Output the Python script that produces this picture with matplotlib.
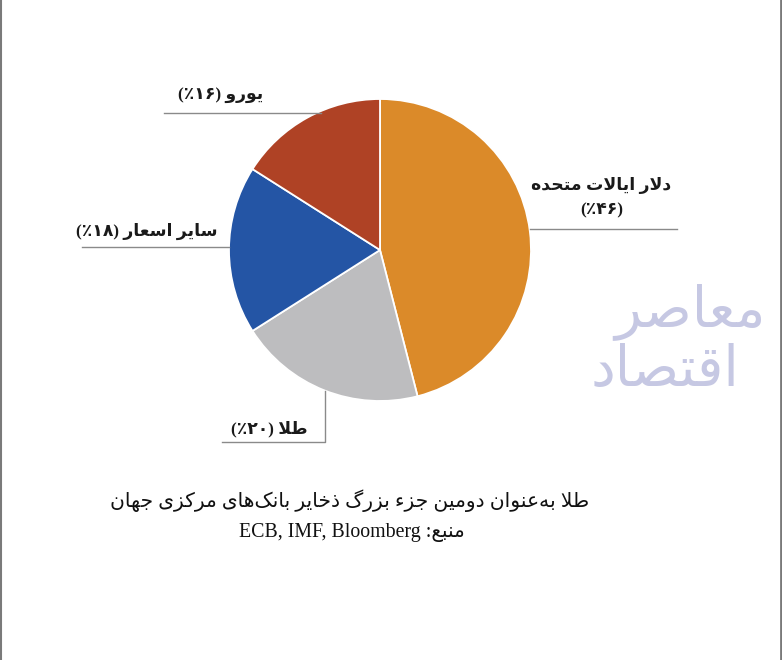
import matplotlib
matplotlib.use("Agg")
import matplotlib.pyplot as plt  # noqa: E402
from matplotlib.lines import Line2D  # noqa: E402
import numpy as np  # noqa: E402

# ---- data ----
shares = [46, 20, 18, 16]
names = ["دلار ایالات متحده", "طلا", "سایر اسعار", "یورو"]
pct_labels = ["(٪۴۶)", "(٪۲۰)", "(٪۱۸)", "(٪۱۶)"]
colors = ["#DB8A29", "#BDBDBF", "#2455A5", "#AF4225"]
title = "طلا به‌عنوان دومین جزء بزرگ ذخایر بانک‌های مرکزی جهان"
source_word = "منبع"
source = "ECB, IMF, Bloomberg"
watermark = ["معاصر", "اقتصاد"]

# ---- minimal Arabic/Persian shaping (matplotlib has no text shaping) ----
# forms: (isolated, final, initial, medial)
FORMS = {
    "\u0621": ("\uFE80",),
    "\u0622": ("\uFE81", "\uFE82"),
    "\u0627": ("\uFE8D", "\uFE8E"),
    "\u0628": ("\uFE8F", "\uFE90", "\uFE91", "\uFE92"),
    "\u062A": ("\uFE95", "\uFE96", "\uFE97", "\uFE98"),
    "\u062B": ("\uFE99", "\uFE9A", "\uFE9B", "\uFE9C"),
    "\u062C": ("\uFE9D", "\uFE9E", "\uFE9F", "\uFEA0"),
    "\u062D": ("\uFEA1", "\uFEA2", "\uFEA3", "\uFEA4"),
    "\u062E": ("\uFEA5", "\uFEA6", "\uFEA7", "\uFEA8"),
    "\u062F": ("\uFEA9", "\uFEAA"),
    "\u0630": ("\uFEAB", "\uFEAC"),
    "\u0631": ("\uFEAD", "\uFEAE"),
    "\u0632": ("\uFEAF", "\uFEB0"),
    "\u0633": ("\uFEB1", "\uFEB2", "\uFEB3", "\uFEB4"),
    "\u0634": ("\uFEB5", "\uFEB6", "\uFEB7", "\uFEB8"),
    "\u0635": ("\uFEB9", "\uFEBA", "\uFEBB", "\uFEBC"),
    "\u0636": ("\uFEBD", "\uFEBE", "\uFEBF", "\uFEC0"),
    "\u0637": ("\uFEC1", "\uFEC2", "\uFEC3", "\uFEC4"),
    "\u0638": ("\uFEC5", "\uFEC6", "\uFEC7", "\uFEC8"),
    "\u0639": ("\uFEC9", "\uFECA", "\uFECB", "\uFECC"),
    "\u063A": ("\uFECD", "\uFECE", "\uFECF", "\uFED0"),
    "\u0641": ("\uFED1", "\uFED2", "\uFED3", "\uFED4"),
    "\u0642": ("\uFED5", "\uFED6", "\uFED7", "\uFED8"),
    "\u0644": ("\uFEDD", "\uFEDE", "\uFEDF", "\uFEE0"),
    "\u0645": ("\uFEE1", "\uFEE2", "\uFEE3", "\uFEE4"),
    "\u0646": ("\uFEE5", "\uFEE6", "\uFEE7", "\uFEE8"),
    "\u0647": ("\uFEE9", "\uFEEA", "\uFEEB", "\uFEEC"),
    "\u0648": ("\uFEED", "\uFEEE"),
    "\u067E": ("\uFB56", "\uFB57", "\uFB58", "\uFB59"),
    "\u0686": ("\uFB7A", "\uFB7B", "\uFB7C", "\uFB7D"),
    "\u0698": ("\uFB8A", "\uFB8B"),
    "\u06A9": ("\uFB8E", "\uFB8F", "\uFB90", "\uFB91"),
    "\u06AF": ("\uFB92", "\uFB93", "\uFB94", "\uFB95"),
    "\u06CC": ("\uFBFC", "\uFBFD", "\uFBFE", "\uFBFF"),
}


def _dual(c):
    return c in FORMS and len(FORMS[c]) == 4


def _joins(c):
    return c in FORMS and len(FORMS[c]) >= 2


def rtl(s):
    out, i = [], 0
    while i < len(s):
        c = s[i]
        if c == "\u200C":
            i += 1
            continue
        if c not in FORMS:
            out.append(c)
            i += 1
            continue
        prev = s[i - 1] if i > 0 else None
        nxt = s[i + 1] if i + 1 < len(s) else None
        jp = prev is not None and _dual(prev) and _joins(c)
        if c == "\u0644" and nxt == "\u0627":
            out.append("\uFEFC" if jp else "\uFEFB")
            i += 2
            continue
        jn = _dual(c) and nxt is not None and _joins(nxt)
        f = FORMS[c]
        if jp and jn:
            out.append(f[3])
        elif jp:
            out.append(f[1])
        elif jn:
            out.append(f[2])
        else:
            out.append(f[0])
        i += 1
    return "".join(out)[::-1]


FONT = ["Liberation Serif", "DejaVu Sans"]
plt.rcParams["font.family"] = FONT

W, H = 782, 660
fig = plt.figure(figsize=(W / 100, H / 100), dpi=100)
ax = fig.add_axes([0, 0, 1, 1])

cx, cy, R = 380, H - 250, 151
wedges, _ = ax.pie(shares, colors=colors, startangle=90, counterclock=False,
                   center=(cx, cy), radius=R,
                   wedgeprops={"edgecolor": "white", "linewidth": 1.3})
ax.set_xlim(0, W)
ax.set_ylim(0, H)
ax.set_aspect("equal")
ax.axis("off")

LC, LW = "#8a8a8a", 1.0
TXT = dict(fontsize=12.4, fontweight="bold", color="#1a1a1a", family=FONT)


def edge_x(y, side):
    # x of pie boundary at height y (data coords)
    return cx + side * np.sqrt(max(R ** 2 - (y - cy) ** 2, 0))


# USD (right)
y = H - 229
ax.plot([edge_x(y, 1), 677], [y, y], color=LC, lw=LW)
ax.text(601, H - 186, rtl(names[0]), ha="center", va="center", **TXT)
ax.text(602, H - 210, pct_labels[0], ha="center", va="center", **TXT)

# Gold (bottom-left, elbow line)
gx, gy = 325, H - 442
ax.plot([222, gx, gx], [gy, gy, cy - np.sqrt(R ** 2 - (gx - cx) ** 2)], color=LC, lw=LW)
ax.text(308, H - 429, pct_labels[1] + " " + rtl(names[1]), ha="right", va="center", **TXT)

# other currencies (left)
y = H - 247
ax.plot([82, edge_x(y, -1)], [y, y], color=LC, lw=LW)
ax.text(218, H - 231, pct_labels[2] + " " + rtl(names[2]), ha="right", va="center", **TXT)

# Euro (top-left)
y = H - 113
ax.plot([164, edge_x(y, -1) + 4], [y, y], color=LC, lw=LW)
ax.text(263, H - 95, pct_labels[3] + " " + rtl(names[3]), ha="right", va="center", **TXT)

# caption
ax.text(350, H - 501, rtl(title), ha="center", va="center", fontsize=14.6,
        color="#111111", family=FONT)
ax.text(352, H - 532, source + " :" + rtl(source_word), ha="center", va="center",
        fontsize=14.3, color="#111111", family=FONT)

# faint watermark
ax.text(690, H - 312, rtl(watermark[0]), ha="center", va="center", fontsize=40,
        color="#C6C8E3", family=FONT, zorder=0)
ax.text(665, H - 372, rtl(watermark[1]), ha="center", va="center", fontsize=40,
        color="#C6C8E3", family=FONT, zorder=0)

# page frame lines
fig.add_artist(Line2D([0.5 / W, 0.5 / W], [0, 1], color="#7a7a7a", lw=1.5))
fig.add_artist(Line2D([1 - 1.0 / W, 1 - 1.0 / W], [0, 1], color="#7a7a7a", lw=2))

fig.savefig("out.png", dpi=100)
